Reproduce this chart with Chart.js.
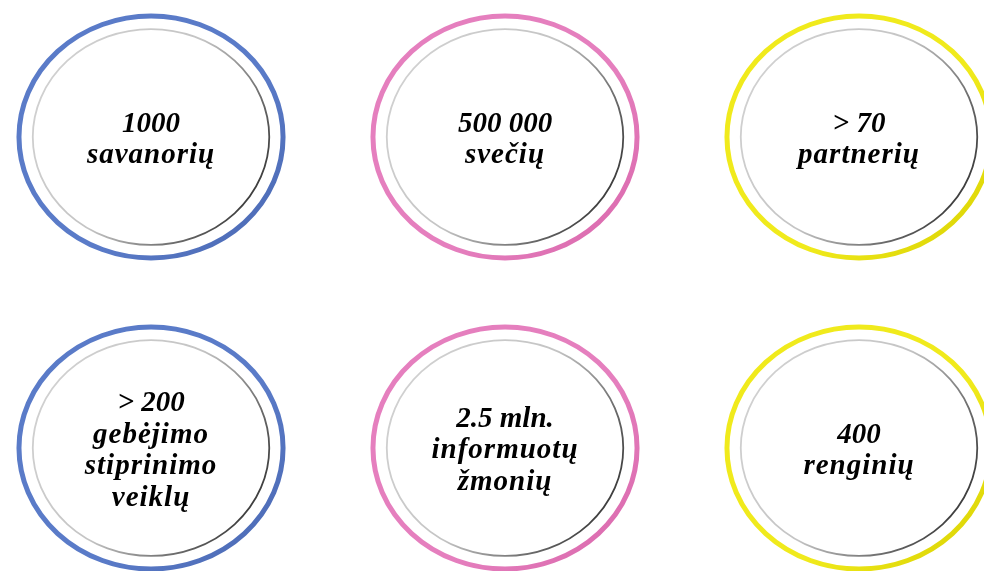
<!DOCTYPE html>
<html lang="lt">
<head>
<meta charset="utf-8"/>
<title>Rodikliai</title>
<script src="https://cdn.jsdelivr.net/npm/chart.js"></script>
<style>
  html, body { margin: 0; padding: 0; background: #fff; }
  #wrap { width: 984px; height: 571px; position: relative; }
</style>
</head>
<body>
<div id="wrap"><canvas id="myChart"></canvas></div>
<script>
// rodikliai
var values = ['1000', '500 000', '> 70', '> 200', '2.5 mln.', '400'];
var labels = [['savanorių'], ['svečių'], ['partnerių'],
              ['gebėjimo', 'stiprinimo', 'veiklų'], ['informuotų', 'žmonių'], ['renginių']];
var cols = [0, 1, 2, 0, 1, 2];
var rows = [0, 0, 0, 1, 1, 1];
var ringColors = ['#5a7bc8', '#e57fbe', '#f0ea1c', '#5a7bc8', '#e57fbe', '#f0ea1c'];
var ringDark   = ['#4a68b2', '#d966ab', '#d8d000', '#4a68b2', '#d966ab', '#d8d000'];

var pts = [];
for (var i = 0; i < values.length; i++) pts.push({x: cols[i], y: rows[i]});

var ringPlugin = {
  id: 'rings',
  afterDatasetsDraw: function(chart) {
    var ctx = chart.ctx;
    var xs = chart.scales.x, ys = chart.scales.y;
    var meta = chart.getDatasetMeta(0);
    meta.data.forEach(function(el, i) {
      var cx = el.x, cy = el.y;
      var rx = Math.abs(xs.getPixelForValue(cols[i] + 0.373) - cx);
      var ry = Math.abs(ys.getPixelForValue(rows[i] + 0.389) - cy);
      var irx = Math.abs(xs.getPixelForValue(cols[i] + 0.334) - cx);
      var iry = Math.abs(ys.getPixelForValue(rows[i] + 0.347) - cy);
      ctx.save();
      // outer coloured ring
      var g = ctx.createLinearGradient(cx - rx, cy - ry, cx + rx, cy + ry);
      g.addColorStop(0, ringColors[i]);
      g.addColorStop(0.6, ringColors[i]);
      g.addColorStop(1, ringDark[i]);
      ctx.beginPath();
      ctx.ellipse(cx, cy, rx, ry, 0, 0, Math.PI * 2);
      ctx.lineWidth = 5;
      ctx.strokeStyle = g;
      ctx.stroke();
      // inner grey ring
      var g2 = ctx.createLinearGradient(cx - irx, cy - iry, cx + irx, cy + iry * 0.3);
      g2.addColorStop(0, '#d4d4d4');
      g2.addColorStop(0.55, '#c4c4c4');
      g2.addColorStop(1, '#3c3c3c');
      ctx.beginPath();
      ctx.ellipse(cx, cy, irx, iry, 0, 0, Math.PI * 2);
      ctx.lineWidth = 1.8;
      ctx.strokeStyle = g2;
      ctx.stroke();
      // text
      var lines = [values[i]].concat(labels[i]);
      var lh = 31.5;
      ctx.fillStyle = '#000';
      ctx.font = 'italic bold 29px "Liberation Serif", serif';
      ctx.textAlign = 'center';
      ctx.textBaseline = 'middle';
      var top = cy + 3 - (lines.length - 1) * lh / 2;
      lines.forEach(function(t, k) {
        ctx.letterSpacing = k === 0 ? '0px' : '1px';
        ctx.fillText(t, cx, top + k * lh);
      });
      ctx.restore();
    });
  }
};

var myChart = new Chart(document.getElementById('myChart'), {
  type: 'scatter',
  data: {
    datasets: [{
      label: 'Rodikliai',
      data: pts,
      pointRadius: 0,
      pointHoverRadius: 0
    }]
  },
  options: {
    responsive: true,
    maintainAspectRatio: false,
    animation: false,
    layout: { padding: 0 },
    plugins: { legend: { display: false }, tooltip: { enabled: false } },
    scales: {
      x: { type: 'linear', display: false, min: -0.4266, max: 2.3531 },
      y: { type: 'linear', display: false, reverse: true, min: -0.4405, max: 1.3955 }
    }
  },
  plugins: [ringPlugin]
});
</script>
</body>
</html>
